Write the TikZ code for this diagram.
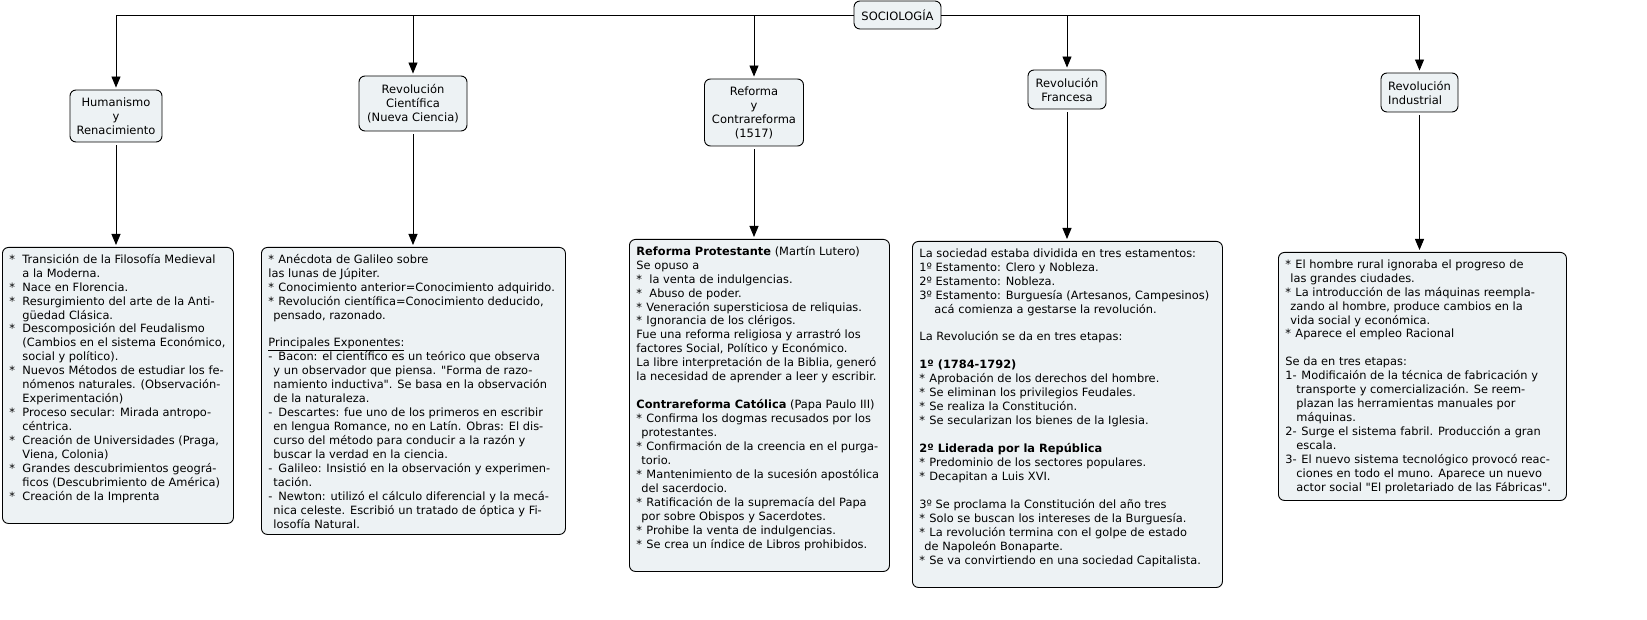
\documentclass[tikz,border=0pt]{standalone}
\usepackage{fontspec}
\setmainfont{DejaVu Sans}[Ligatures=TeXOff]
\usetikzlibrary{arrows.meta}
\definecolor{boxfill}{HTML}{EDF2F4}
\tikzset{
  topic/.style={draw=black, line width=0.9pt, fill=boxfill, rounded corners=6pt,
    align=center, font=\fontsize{11.5}{14}\selectfont, inner sep=2pt},
  info/.style={draw=black, line width=0.9pt, fill=boxfill, rounded corners=6pt,
    anchor=north west, inner xsep=7pt, inner ysep=6pt,
    font=\fontsize{11.4}{13.95}\selectfont},
  link/.style={line width=0.9pt, -{Triangle[length=11pt,width=9pt]}, shorten >=2pt},
}
\newcommand\infotext[3]{\begin{minipage}[t][#2][t]{#1}\strut#3\end{minipage}}
\newcommand\bu{\makebox[10pt][l]{*}}
\newcommand\bx{\makebox[13pt][l]{*}}
\newcommand\ct{\hspace*{5pt}}
\newcommand\dd{\makebox[10pt][l]{-}}
\newcommand\blank{\mbox{}\\}
\begin{document}
\begin{tikzpicture}[x=1pt,y=-1pt]
\useasboundingbox (0,0) rectangle (1647,620);

% top-level nodes
\node[topic, minimum width=87pt, minimum height=28pt] (soc) at (897.5,15) {SOCIOLOGÍA};
\node[topic, minimum width=92pt, minimum height=52pt] (hum) at (116,116) {Humanismo\\y\\Renacimiento};
\node[topic, minimum width=108pt, minimum height=55pt] (rc) at (413,103.5) {Revolución\\Científica\\(Nueva Ciencia)};
\node[topic, minimum width=99pt, minimum height=67pt] (ref) at (754,112.5) {Reforma\\y\\Contrareforma\\(1517)};
\node[topic, minimum width=78pt, minimum height=39pt] (rf) at (1067,89.5) {Revolución\\Francesa};
\node[topic, minimum width=77pt, minimum height=39pt, align=left] (ri) at (1419.5,92.5) {Revolución\\Industrial};

% detail boxes
\node[info] (b1) at (2,247) {\infotext{217pt}{264pt}{%
\bx Transición de la Filosofía Medieval\\
\hspace*{13pt}a la Moderna.\\
\bx Nace en Florencia.\\
\bx Resurgimiento del arte de la Anti-\\
\hspace*{13pt}güedad Clásica.\\
\bx Descomposición del Feudalismo\\
\hspace*{13pt}(Cambios en el sistema Económico,\\
\hspace*{13pt}social y político).\\
\bx Nuevos Métodos de estudiar los fe-\\
\hspace*{13pt}nómenos naturales. (Observación-\\
\hspace*{13pt}Experimentación)\\
\bx Proceso secular: Mirada antropo-\\
\hspace*{13pt}céntrica.\\
\bx Creación de Universidades (Praga,\\
\hspace*{13pt}Viena, Colonia)\\
\bx Grandes descubrimientos geográ-\\
\hspace*{13pt}ficos (Descubrimiento de América)\\
\bx Creación de la Imprenta}};

\node[info] (b2) at (261,247) {\infotext{290pt}{275pt}{%
\bu Anécdota de Galileo sobre\\
las lunas de Júpiter.\\
\bu Conocimiento anterior=Conocimiento adquirido.\\
\bu Revolución científica=Conocimiento deducido,\\
\ct pensado, razonado.\\
\blank
\underline{Principales Exponentes:}\\
\dd Bacon: el científico es un teórico que observa\\
\ct y un observador que piensa. "Forma de razo-\\
\ct namiento inductiva". Se basa en la observación\\
\ct de la naturaleza.\\
\dd Descartes: fue uno de los primeros en escribir\\
\ct en lengua Romance, no en Latín. Obras: El dis-\\
\ct curso del método para conducir a la razón y\\
\ct buscar la verdad en la ciencia.\\
\dd Galileo: Insistió en la observación y experimen-\\
\ct tación.\\
\dd Newton: utilizó el cálculo diferencial y la mecá-\\
\ct nica celeste. Escribió un tratado de óptica y Fi-\\
\ct losofía Natural.}};

\node[info] (b3) at (629,239) {\infotext{246pt}{320pt}{%
\textbf{Reforma Protestante} (Martín Lutero)\\
Se opuso a\\
\bu\hspace{3pt}la venta de indulgencias.\\
\bu\hspace{3pt}Abuso de poder.\\
\bu Veneración supersticiosa de reliquias.\\
\bu Ignorancia de los clérigos.\\
Fue una reforma religiosa y arrastró los\\
factores Social, Político y Económico.\\
La libre interpretación de la Biblia, generó\\
la necesidad de aprender a leer y escribir.\\
\blank
\textbf{Contrareforma Católica} (Papa Paulo III)\\
\bu Confirma los dogmas recusados por los\\
\ct protestantes.\\
\bu Confirmación de la creencia en el purga-\\
\ct torio.\\
\bu Mantenimiento de la sucesión apostólica\\
\ct del sacerdocio.\\
\bu Ratificación de la supremacía del Papa\\
\ct por sobre Obispos y Sacerdotes.\\
\bu Prohibe la venta de indulgencias.\\
\bu Se crea un índice de Libros prohibidos.}};

\node[info] (b4) at (912,241) {\infotext{296pt}{334pt}{%
La sociedad estaba dividida en tres estamentos:\\
1º Estamento: Clero y Nobleza.\\
2º Estamento: Nobleza.\\
3º Estamento: Burguesía (Artesanos, Campesinos)\\
\hspace*{15pt}acá comienza a gestarse la revolución.\\
\blank
La Revolución se da en tres etapas:\\
\blank
\textbf{1º (1784-1792)}\\
\bu Aprobación de los derechos del hombre.\\
\bu Se eliminan los privilegios Feudales.\\
\bu Se realiza la Constitución.\\
\bu Se secularizan los bienes de la Iglesia.\\
\blank
\textbf{2º Liderada por la República}\\
\bu Predominio de los sectores populares.\\
\bu Decapitan a Luis XVI.\\
\blank
3º Se proclama la Constitución del año tres\\
\bu Solo se buscan los intereses de la Burguesía.\\
\bu La revolución termina con el golpe de estado\\
\ct de Napoleón Bonaparte.\\
\bu Se va convirtiendo en una sociedad Capitalista.}};

\node[info] (b5) at (1278,252) {\infotext{274pt}{236pt}{%
\bu El hombre rural ignoraba el progreso de\\
\ct las grandes ciudades.\\
\bu La introducción de las máquinas reempla-\\
\ct zando al hombre, produce cambios en la\\
\ct vida social y económica.\\
\bu Aparece el empleo Racional\\
\blank
Se da en tres etapas:\\
\makebox[16pt][l]{1-}Modificaión de la técnica de fabricación y\\
\hspace*{11pt}transporte y comercialización. Se reem-\\
\hspace*{11pt}plazan las herramientas manuales por\\
\hspace*{11pt}máquinas.\\
\makebox[16pt][l]{2-}Surge el sistema fabril. Producción a gran\\
\hspace*{11pt}escala.\\
\makebox[16pt][l]{3-}El nuevo sistema tecnológico provocó reac-\\
\hspace*{11pt}ciones en todo el muno. Aparece un nuevo\\
\hspace*{11pt}actor social "El proletariado de las Fábricas".}};

% connectors from SOCIOLOGÍA
\draw[link] (soc.west) -| (hum.north);
\draw[link] (soc.west) -| (rc.north);
\draw[link] (soc.west) -| (ref.north);
\draw[link] (soc.east) -| (rf.north);
\draw[link] (soc.east) -| (ri.north);

% connectors to detail boxes
\draw[link, shorten <=3pt] (hum.south) -- (hum.south |- b1.north);
\draw[link, shorten <=3pt] (rc.south) -- (rc.south |- b2.north);
\draw[link, shorten <=3pt] (ref.south) -- (ref.south |- b3.north);
\draw[link, shorten <=3pt] (rf.south) -- (rf.south |- b4.north);
\draw[link, shorten <=3pt] (ri.south) -- (ri.south |- b5.north);
\end{tikzpicture}
\end{document}
